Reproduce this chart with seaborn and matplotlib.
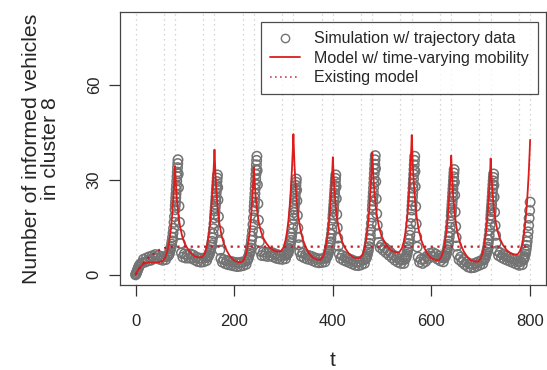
import pandas as pd
import matplotlib
matplotlib.use('Agg')
import matplotlib.pyplot as plt
import seaborn as sns
from matplotlib.lines import Line2D

# simulation w/ trajectory data (one 80-step cycle per row)
sim_start_t = [0, 1, 2, 3, 4, 5, 6, 7, 8, 10]
sim_start_y = [0, 0.3, 0.7, 1.1, 1.5, 1.9, 2.3, 2.7, 3.0, 3.4]
sim_base_offsets = [13, 16, 19, 22, 25, 28, 31, 34, 37, 40, 43, 46, 49, 52, 55, 58, 61, 64]
sim_rise_offsets = [66, 67, 68, 69, 70, 71, 72, 73, 74, 75, 76, 77, 78, 79,
                    80, 80.5, 81, 81.5, 82, 82.5, 83, 83.5, 84, 84.5, 85, 85.5, 86,
                    86.5, 87, 88, 89, 90, 91]
sim_base = [
    [3.8, 4.9, 4.0, 5.3, 4.4, 5.7, 4.6, 6.0, 5.2, 6.4, 5.3, 6.1, 4.9, 5.8, 4.6, 5.7, 4.8, 5.8],
    [6.9, 5.6, 6.6, 5.3, 6.4, 5.3, 6.6, 5.2, 6.2, 4.7, 5.6, 4.2, 5.3, 4.0, 5.2, 4.1, 5.4, 4.5],
    [5.2, 4.0, 4.8, 3.5, 4.5, 3.2, 4.3, 3.0, 4.1, 2.8, 3.9, 2.6, 3.8, 2.7, 4.0, 2.9, 4.2, 3.3],
    [7.4, 6.1, 7.2, 6.0, 7.1, 5.8, 7.1, 6.0, 7.0, 5.6, 6.6, 5.2, 6.3, 5.0, 6.1, 4.9, 6.2, 5.1],
    [7.2, 5.9, 6.9, 5.4, 6.4, 5.0, 6.1, 4.8, 5.8, 4.4, 5.4, 4.0, 5.1, 3.8, 5.0, 3.9, 5.2, 4.1],
    [6.6, 5.2, 6.1, 4.6, 5.6, 4.2, 5.2, 3.8, 4.8, 3.4, 4.4, 3.0, 4.1, 2.9, 4.2, 3.2, 4.6, 3.6],
    [10.2, 8.6, 9.4, 7.8, 8.6, 7.0, 7.8, 6.2, 7.0, 5.4, 6.2, 4.6, 5.5, 4.0, 5.0, 3.6, 4.7, 3.6],
    [5.6, 4.0, 4.9, 3.6, 5.0, 4.2, 5.9, 5.2, 6.8, 5.9, 7.0, 5.6, 6.5, 5.0, 5.9, 4.4, 5.4, 4.1],
    [6.4, 4.8, 5.6, 4.0, 4.8, 3.2, 4.0, 2.5, 3.5, 2.2, 3.4, 2.3, 3.7, 2.7, 4.1, 3.1, 4.5, 3.5],
    [7.6, 6.1, 7.0, 5.5, 6.4, 5.0, 6.0, 4.6, 5.6, 4.2, 5.2, 3.8, 4.8, 3.4, 4.4, 3.0, 4.2, 3.2],
]
sim_rise = [
    [6.0, 6.3, 6.6, 7.0, 7.6, 8.2, 8.8, 9.7, 10.7, 11.9, 13.2, 14.7, 16.6, 18.4,
     20.6, 21.9, 23.1, 24.4, 25.6, 27.0, 28.3, 29.7, 31.1, 32.5, 33.9, 35.2, 36.4,
     31.9, 27.6, 21.7, 16.6, 12.8, 9.9],
    [5.5, 5.8, 6.1, 6.3, 6.9, 7.4, 7.9, 8.7, 9.5, 10.6, 11.7, 13.0, 14.6, 16.2,
     18.0, 19.1, 20.2, 21.3, 22.3, 23.5, 24.7, 25.9, 27.1, 28.3, 29.5, 30.6, 31.6,
     27.6, 23.7, 18.4, 13.9, 10.5, 7.8],
    [4.5, 4.8, 5.2, 5.5, 6.2, 6.8, 7.5, 8.5, 9.5, 10.9, 12.2, 13.9, 15.9, 18.0,
     20.3, 21.7, 23.0, 24.4, 25.7, 27.2, 28.7, 30.3, 31.8, 33.3, 34.8, 36.2, 37.5,
     33.0, 28.5, 22.5, 17.3, 13.4, 10.4],
    [6.2, 6.4, 6.7, 6.9, 7.4, 7.9, 8.4, 9.1, 9.9, 10.9, 11.9, 13.1, 14.6, 16.0,
     17.8, 18.8, 19.7, 20.7, 21.7, 22.8, 23.9, 25.0, 26.1, 27.2, 28.3, 29.3, 30.3,
     26.8, 23.4, 18.8, 14.8, 11.8, 9.5],
    [5.2, 5.5, 5.8, 6.0, 6.6, 7.1, 7.7, 8.5, 9.3, 10.4, 11.4, 12.8, 14.4, 16.0,
     17.9, 19.0, 20.0, 21.1, 22.2, 23.4, 24.6, 25.8, 27.0, 28.2, 29.4, 30.5, 31.6,
     27.9, 24.1, 19.1, 14.9, 11.6, 9.1],
    [4.9, 5.2, 5.5, 5.9, 6.6, 7.2, 7.9, 8.9, 9.9, 11.2, 12.6, 14.3, 16.3, 18.3,
     20.6, 22.0, 23.3, 24.7, 26.0, 27.5, 29.0, 30.5, 32.0, 33.5, 35.0, 36.4, 37.7,
     33.6, 29.5, 24.0, 19.3, 15.7, 13.0],
    [4.9, 5.2, 5.5, 5.9, 6.5, 7.2, 7.9, 8.9, 9.9, 11.2, 12.5, 14.2, 16.2, 18.2,
     20.5, 21.9, 23.2, 24.6, 25.9, 27.4, 28.8, 30.3, 31.8, 33.3, 34.8, 36.2, 37.5,
     32.7, 27.9, 21.6, 16.1, 12.0, 8.8],
    [5.3, 5.6, 5.8, 6.1, 6.7, 7.3, 7.9, 8.7, 9.6, 10.7, 11.9, 13.3, 15.0, 16.7,
     18.7, 19.9, 21.0, 22.2, 23.3, 24.6, 25.9, 27.2, 28.4, 29.7, 31.0, 32.2, 33.3,
     29.3, 25.2, 19.9, 15.3, 11.8, 9.1],
    [4.7, 4.9, 5.2, 5.5, 6.1, 6.6, 7.2, 8.0, 8.8, 9.9, 11.1, 12.4, 14.1, 15.8,
     17.7, 18.9, 20.0, 21.1, 22.2, 23.5, 24.7, 26.0, 27.2, 28.5, 29.7, 30.8, 31.9,
     28.3, 24.6, 19.8, 15.6, 12.5, 10.0],
    [4.6, 5.0, 5.4, 5.8, 6.5, 7.3, 8.1, 9.3, 10.5, 12.0, 13.6, 15.6, 17.9, 20.3,
     23.0],
]

# model w/ time-varying mobility
model_start_t = [0, 3, 6, 10, 14, 18, 22, 26, 30, 40, 48, 55, 60, 64, 67, 70, 72, 74, 76, 77, 78, 79]
model_start_y = [0, 1.0, 1.8, 2.6, 3.2, 3.6, 3.8, 3.9, 3.9, 3.9, 4.0, 4.4, 5.4, 7.3, 9.4, 12.4,
                 15.2, 18.5, 22.8, 25.3, 28.0, 31.0]
model_offsets = [0, 2, 4, 7, 10, 14, 19, 25, 32, 40, 48, 55, 60, 64, 67, 70, 72, 74, 76, 77, 78, 79]
model_cycles = [
    [34.4, 27.9, 23.4, 18.7, 15.5, 12.5, 10.1, 8.4, 6.9, 5.8, 5.5, 5.6, 6.7, 8.6, 11.1, 14.5, 17.7, 21.5, 26.4, 29.2, 32.3, 35.8],
    [39.6, 31.6, 26.1, 20.3, 16.3, 12.7, 9.8, 7.6, 5.7, 4.5, 4.0, 4.0, 4.9, 6.6, 8.7, 11.8, 14.6, 18.0, 22.3, 24.8, 27.5, 30.6],
    [34.0, 28.0, 23.9, 19.5, 16.5, 13.8, 11.6, 10.0, 8.6, 7.7, 7.3, 7.5, 8.7, 10.9, 13.5, 17.3, 20.7, 24.8, 30.1, 33.2, 36.6, 40.3],
    [44.5, 35.6, 29.5, 23.0, 18.5, 14.5, 11.2, 8.8, 6.7, 5.3, 4.8, 4.7, 5.7, 7.6, 9.9, 13.2, 16.2, 19.9, 24.5, 27.2, 30.2, 33.5],
    [37.2, 30.0, 25.1, 19.9, 16.3, 13.0, 10.4, 8.4, 6.8, 5.6, 5.2, 5.3, 6.3, 8.3, 10.7, 14.1, 17.2, 20.9, 25.7, 28.4, 31.5, 34.9],
    [38.7, 31.6, 26.7, 21.6, 18.0, 14.8, 12.2, 10.3, 8.7, 7.5, 7.1, 7.2, 8.4, 10.6, 13.2, 17.0, 20.4, 24.5, 29.8, 32.9, 36.3, 40.0],
    [44.2, 35.3, 29.3, 22.8, 18.3, 14.3, 11.1, 8.6, 6.6, 5.2, 4.7, 4.6, 5.7, 7.5, 9.9, 13.3, 16.3, 20.1, 24.8, 27.5, 30.6, 34.0],
    [37.7, 30.2, 25.0, 19.5, 15.7, 12.3, 9.6, 7.5, 5.8, 4.6, 4.2, 4.2, 5.2, 7.1, 9.4, 12.8, 15.8, 19.4, 24.1, 26.8, 29.8, 33.1],
    [36.8, 30.0, 25.3, 20.3, 16.9, 13.8, 11.3, 9.4, 7.9, 6.8, 6.4, 6.5, 7.7, 9.8, 12.4, 16.1, 19.4, 23.5, 28.6, 31.6, 34.9, 38.6],
]
model_end_t = 800
model_end_y = 42.7

# existing model
exist_t = [0, 5, 10, 15, 20, 25, 30, 35, 40, 45, 50, 55, 60, 65, 70, 80, 800]
exist_y = [0, 1.3, 2.5, 3.5, 4.4, 5.2, 5.9, 6.5, 7.1, 7.6, 8.0, 8.3, 8.5, 8.7, 8.8, 8.9, 8.9]

grid_t = [0, 57, 80, 137, 160, 217, 240, 297, 320, 377, 400, 457, 480,
          537, 560, 617, 640, 697, 720, 777, 800]

# build long tables
sim_t = list(sim_start_t)
sim_y = list(sim_start_y)
for k in range(len(sim_base)):
    for o, v in zip(sim_base_offsets, sim_base[k]):
        sim_t.append(80 * k + o)
        sim_y.append(v)
    for o, v in zip(sim_rise_offsets, sim_rise[k]):
        sim_t.append(80 * k + o)
        sim_y.append(v)
sim = pd.DataFrame({'t': sim_t, 'n': sim_y})

model_t = list(model_start_t)
model_y = list(model_start_y)
for k, cyc in enumerate(model_cycles):
    for o, v in zip(model_offsets, cyc):
        model_t.append(80 * (k + 1) + o)
        model_y.append(v)
model_t.append(model_end_t)
model_y.append(model_end_y)
model = pd.DataFrame({'t': model_t, 'n': model_y})
exist = pd.DataFrame({'t': exist_t, 'n': exist_y})

sns.set_style('white')
plt.rcParams['font.family'] = ['Liberation Sans', 'DejaVu Sans']

fig = plt.figure(figsize=(5.47, 3.70), dpi=100)
ax = fig.add_axes([0.219, 0.23, 0.779, 0.738])

for g in grid_t:
    ax.axvline(g, color='#c8c8c8', lw=0.9, ls=(0, (1, 3)), zorder=0)

sns.scatterplot(data=sim, x='t', y='n', ax=ax, marker='o', s=46,
                facecolor='none', edgecolor='#737373', linewidth=1.1, zorder=2)
sns.lineplot(data=model, x='t', y='n', ax=ax, color='#dd1c1c', lw=1.3,
             sort=False, estimator=None, zorder=3)
sns.lineplot(data=exist, x='t', y='n', ax=ax, color='#b8202a', lw=1.6,
             ls=(0, (1, 2)), sort=False, estimator=None, zorder=4)

ax.set_xlim(-32, 832)
ax.set_ylim(-3.2, 83.2)
ax.set_xticks([0, 200, 400, 600, 800])
ax.set_yticks([0, 30, 60])
ax.tick_params(axis='both', direction='out', length=8, width=0.9, color='#333333',
               labelsize=12, left=True, bottom=True)
ax.tick_params(axis='x', pad=13)
ax.tick_params(axis='y', pad=5)
for lab in ax.get_yticklabels():
    lab.set_rotation(90)
    lab.set_va('center')
for sp in ax.spines.values():
    sp.set_color('#444444')
    sp.set_linewidth(0.9)

ax.set_xlabel('t', fontsize=15, labelpad=16)
ax.set_ylabel('Number of informed vehicles\nin cluster 8', fontsize=15.3, labelpad=19,
              linespacing=1.0)

handles = [
    Line2D([], [], marker='o', ls='none', markersize=6, markerfacecolor='none',
           markeredgecolor='#737373', markeredgewidth=1.0),
    Line2D([], [], color='#dd1c1c', lw=1.3),
    Line2D([], [], color='#d04050', lw=1.2, ls=(0, (1, 2))),
]
labels = ['Simulation w/ trajectory data', 'Model w/ time-varying mobility', 'Existing model']
leg = ax.legend(handles, labels, loc='upper right', bbox_to_anchor=(0.981, 0.961),
                borderaxespad=0, fontsize=11.5, frameon=True, fancybox=False,
                handlelength=1.9, handletextpad=0.9, labelspacing=0.28, borderpad=0.55)
leg.get_frame().set_edgecolor('#222222')
leg.get_frame().set_linewidth(0.9)

fig.savefig('out.png', dpi=100)
